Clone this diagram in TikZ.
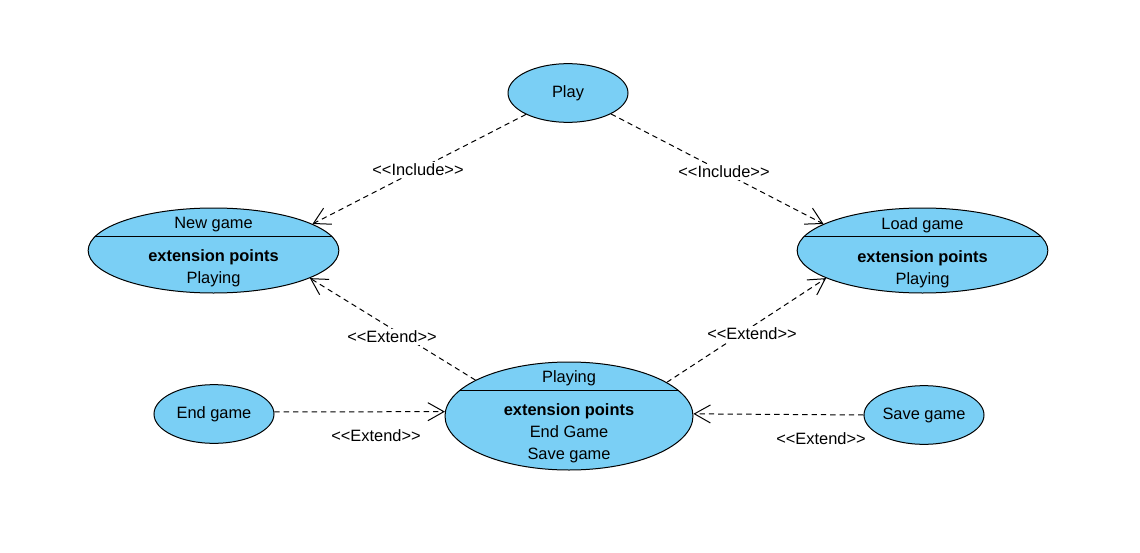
\documentclass[tikz,border=0pt]{standalone}
\usepackage{fontspec}
\setmainfont{Liberation Sans}[Ligatures=TeXOff]
\usepackage{xcolor}
\usetikzlibrary{arrows.meta,shapes.geometric}
\definecolor{ucblue}{RGB}{122,207,245}

\begin{document}
\begin{tikzpicture}[
  x=0.75pt, y=-0.75pt,
  every node/.style={font=\fontsize{12.3}{16.5}\selectfont},
  usecase/.style={
    draw, ellipse, fill=ucblue, line width=0.75pt, inner sep=0pt
  },
  smallcase/.style={usecase, minimum width=90pt, minimum height=44pt},
  extcase/.style={
    usecase, minimum width=#1, minimum height=63.75pt,
    path picture={
      \draw[line width=0.75pt]
        ([yshift=-21pt]path picture bounding box.north west) --
        ([yshift=-21pt]path picture bounding box.north east);
    }
  },
  uctext/.style={align=center, inner sep=0pt},
  stereo/.style={fill=white, inner sep=1.5pt},
  arr/.style={
    line width=0.75pt, dash pattern=on 4pt off 3pt,
    -{Straight Barb[length=12pt, width=13.5pt]}
  },
]

\useasboundingbox (0,0) rectangle (1140,553);

%% ── Use cases ───────────────────────────────────────────────────────────────
\node[smallcase] (play)     at (568,  93) {Play};
\node[smallcase] (endgame)  at (214, 414) {End game};
\node[smallcase] (savegame) at (924, 415) {Save game};

\node[extcase=188pt] (newgame)  at (213.5, 250.5) {};
\node[extcase=188pt] (loadgame) at (922.5, 250.5) {};
\node[extcase=186pt, minimum height=81pt] (playing) at (569, 416) {};

%% ── Use case texts ──────────────────────────────────────────────────────────
\node[uctext] (newgame-txt)  at ([yshift=-1.5pt]newgame.center)
  {New game\\[8.25pt]\textbf{extension points}\\Playing};
\node[uctext] (loadgame-txt) at ([yshift=-1.5pt]loadgame.center)
  {Load game\\[8.25pt]\textbf{extension points}\\Playing};
\node[uctext] (playing-txt)  at ([yshift=-0.75pt]playing.center)
  {Playing\\[8.25pt]\textbf{extension points}\\End Game\\Save game};

%% ── Relations ───────────────────────────────────────────────────────────────
\draw[arr] (play.207)     -- (newgame.15);
\draw[arr] (play.334)     -- (loadgame.165);
\draw[arr] (playing.159)  -- (newgame.344);
\draw[arr] (playing.19)   -- (loadgame.196);
\draw[arr] (endgame.2)    -- (playing.178);
\draw[arr] (savegame.west) -- (playing.1);

%% ── Stereotypes ─────────────────────────────────────────────────────────────
\node[stereo] (inc-new)  at (418, 170) {<<Include>>};
\node[stereo] (inc-load) at (724, 172) {<<Include>>};
\node[stereo] (ext-new)  at (392, 337) {<<Extend>>};
\node[stereo] (ext-load) at (752, 334) {<<Extend>>};
\node[stereo] (ext-end)  at (376, 436) {<<Extend>>};
\node[stereo] (ext-save) at (821, 439) {<<Extend>>};

\end{tikzpicture}
\end{document}
